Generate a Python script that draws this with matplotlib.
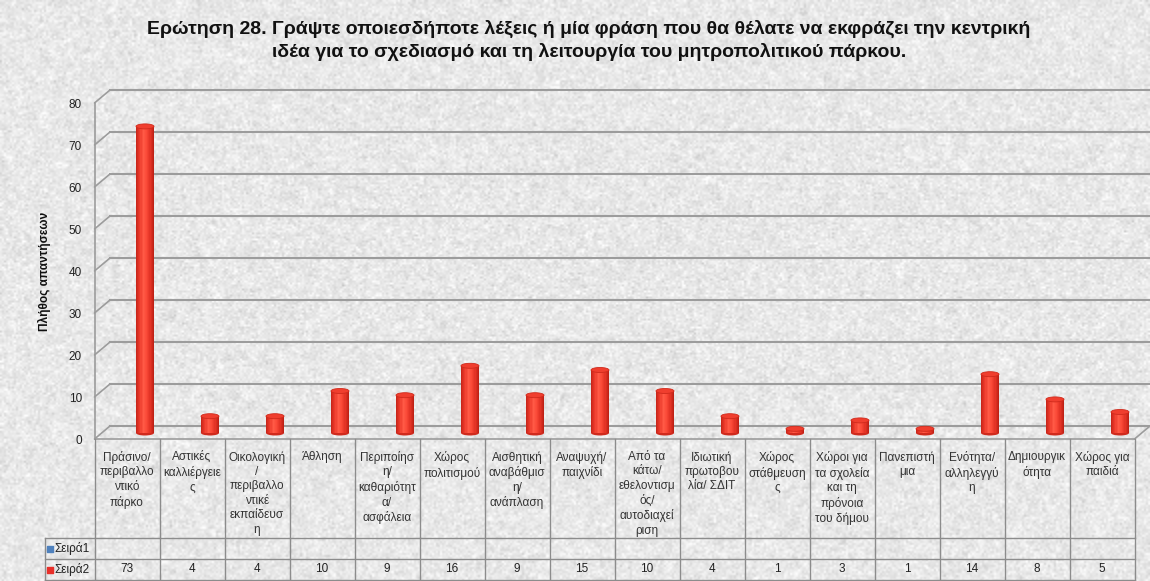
import numpy as np
import matplotlib
matplotlib.use("Agg")
import matplotlib.pyplot as plt
import matplotlib.transforms as mtransforms
from matplotlib.patches import Ellipse
from matplotlib.colors import LinearSegmentedColormap

# ---- data ----
categories = [
    "Πράσινο/\nπεριβαλλο\nντικό\nπάρκο",
    "Αστικές\nκαλλιέργειε\nς",
    "Οικολογική\n/\nπεριβαλλο\nντικέ\nεκπαίδευσ\nη",
    "Άθληση",
    "Περιποίησ\nη/\nκαθαριότητ\nα/\nασφάλεια",
    "Χώρος\nπολιτισμού",
    "Αισθητική\nαναβάθμισ\nη/\nανάπλαση",
    "Αναψυχή/\nπαιχνίδι",
    "Από τα\nκάτω/\nεθελοντισμ\nός/\nαυτοδιαχεί\nριση",
    "Ιδιωτική\nπρωτοβου\nλία/ ΣΔΙΤ",
    "Χώρος\nστάθμευση\nς",
    "Χώροι για\nτα σχολεία\nκαι τη\nπρόνοια\nτου δήμου",
    "Πανεπιστή\nμια",
    "Ενότητα/\nαλληλεγγύ\nη",
    "Δημιουργικ\nότητα",
    "Χώρος για\nπαιδιά",
]
series1_values = [None] * len(categories)
series2_values = [73, 4, 4, 10, 9, 16, 9, 15, 10, 4, 1, 3, 1, 14, 8, 5]
series_names = ["Σειρά1", "Σειρά2"]
y_ticks = [0, 10, 20, 30, 40, 50, 60, 70, 80]

title = ("Ερώτηση 28. Γράψτε οποιεσδήποτε λέξεις ή μία φράση που θα θέλατε να εκφράζει την κεντρική\n"
         "ιδέα για το σχεδιασμό και τη λειτουργία του μητροπολιτικού πάρκου.")
y_label = "Πλήθος απαντήσεων"

body_font = "Liberation Sans"

W, H, DPI = 1150, 581, 100
fig = plt.figure(figsize=(W / DPI, H / DPI), dpi=DPI)
fig.patch.set_facecolor("#e8e8e8")

# granite-like textured background
bg = fig.add_axes([0, 0, 1, 1], zorder=-5)
rng = np.random.default_rng(7)
tex = rng.normal(0.91, 0.035, size=(H // 2, W // 2))
tex += 0.5 * np.kron(rng.normal(0, 0.02, size=(H // 8 + 1, W // 8 + 1)), np.ones((4, 4)))[:H // 2, :W // 2]
bg.imshow(np.clip(tex, 0, 1), cmap="gray", vmin=0, vmax=1, aspect="auto", interpolation="bilinear")
bg.set_axis_off()

def px_x(x):
    return x / W

def px_y(y):
    return 1 - y / H

# plot geometry in pixels
X0, X1 = 94.5, 1134.5
Y0, Y80 = 439.0, 103.0
n = len(categories)

ax = fig.add_axes([px_x(X0), px_y(Y0), (X1 - X0) / W, (Y0 - Y80) / H])
ax.set_xlim(0, n)
ax.set_ylim(0, 80)
ax.patch.set_alpha(0)
for s in ax.spines.values():
    s.set_visible(False)
ax.set_xticks([])
ax.set_yticks(y_ticks)
ax.set_yticklabels([str(t) for t in y_ticks], fontsize=8.5, fontfamily=body_font, color="#222222")
ax.tick_params(axis="y", length=0, pad=9)
ax.set_ylabel(y_label, fontsize=8.6, fontweight="bold", fontfamily=body_font, labelpad=13, color="#111111")

# depth offsets (pixels)
DX, DY = 15.5, 13.0
back = mtransforms.offset_copy(ax.transData, fig=fig, x=DX, y=DY, units="dots")
mid = mtransforms.offset_copy(ax.transData, fig=fig, x=18, y=6, units="dots")

grid_col = "#9c9c9c"
for t in y_ticks:
    # back wall gridline
    ax.plot([0, n], [t, t], transform=back, color=grid_col, lw=1.5, clip_on=False, zorder=1)
    # side wall diagonal from the front axis to the back wall
    ax.annotate("", xy=(0, t), xycoords=back, xytext=(0, t), textcoords=ax.transData,
                arrowprops=dict(arrowstyle="-", color=grid_col, lw=1.2, shrinkA=0, shrinkB=0))
# front vertical axis line
ax.plot([0, 0], [0, 80], color=grid_col, lw=1.2, clip_on=False, zorder=1)
# floor front edge and right diagonal
ax.plot([0, n], [0, 0], color=grid_col, lw=1.2, clip_on=False, zorder=1)
ax.annotate("", xy=(n, 0), xycoords=back, xytext=(n, 0), textcoords=ax.transData,
            arrowprops=dict(arrowstyle="-", color=grid_col, lw=1.2, shrinkA=0, shrinkB=0))

# cylinders drawn as shaded strips with elliptical caps
cyl = LinearSegmentedColormap.from_list(
    "cyl", ["#c9261a", "#ec3a2b", "#ff5a46", "#fb4a38", "#e43426", "#bf2115"])
bar_w = 18 / 65.0
strips = 16
sw = bar_w / strips
centers = np.arange(n) + 0.5
vals = np.array(series2_values, dtype=float)
cap_h = 5.0 / 4.2
for k in range(strips):
    off = -bar_w / 2 + (k + 0.5) * sw
    ax.bar(centers + off, vals, width=sw * 1.05, color=cyl(k / (strips - 1)),
           linewidth=0, transform=mid, zorder=3, clip_on=False)
for c, v in zip(centers, vals):
    ax.add_patch(Ellipse((c, 0), bar_w, cap_h, transform=mid, facecolor="#d02a1d",
                         edgecolor="none", zorder=2.9, clip_on=False))
    ax.add_patch(Ellipse((c, v), bar_w, cap_h, transform=mid, facecolor="#f03e2e",
                         edgecolor="#cf2a1c", lw=0.6, zorder=4, clip_on=False))

# ---- data table ----
TB = 581.0
tax = fig.add_axes([px_x(X0), px_y(TB), (X1 - X0) / W, (TB - Y0) / H])
tax.set_xlim(0, n)
tax.set_ylim(TB - Y0, 0)
tax.set_axis_off()
tax.patch.set_alpha(0)

row_top1 = 538 - Y0
row_top2 = 559 - Y0
row_bot = 580 - Y0
leg_left = (45 - X0) / ((X1 - X0) / n)
line_col = "#8c8c8c"
for i in range(n + 1):
    tax.plot([i, i], [0, row_bot], color=line_col, lw=1.0, clip_on=False)
for yv in (row_top1, row_top2, row_bot):
    tax.plot([leg_left, n], [yv, yv], color=line_col, lw=1.0, clip_on=False)
tax.plot([leg_left, leg_left], [row_top1, row_bot], color=line_col, lw=1.0, clip_on=False)

for i, lab in enumerate(categories):
    tax.text(i + 0.5, 451 - Y0, lab, ha="center", va="top", fontsize=8.5,
             fontfamily=body_font, color="#333333", linespacing=1.27)
for i, v in enumerate(series2_values):
    tax.text(i + 0.5, (row_top2 + row_bot) / 2, str(v), ha="center", va="center",
             fontsize=8.5, fontfamily=body_font, color="#222222")

legend_colors = ["#4f81bd", "#e8302a"]
for name, col, (ya, yb) in zip(series_names, legend_colors,
                               [(row_top1, row_top2), (row_top2, row_bot)]):
    ym = (ya + yb) / 2
    tax.scatter([leg_left + 0.07], [ym], marker="s", s=16, color=col, clip_on=False, zorder=5)
    tax.text(leg_left + 0.14, ym, name, ha="left", va="center", fontsize=8.5,
             fontfamily=body_font, color="#222222")

# ---- title ----
fig.text(0.512, px_y(20), title, ha="center", va="top", fontsize=14, fontweight="bold",
         fontfamily=body_font, color="#111111", linespacing=1.33)

fig.savefig("out.png", dpi=DPI, facecolor=fig.get_facecolor())
